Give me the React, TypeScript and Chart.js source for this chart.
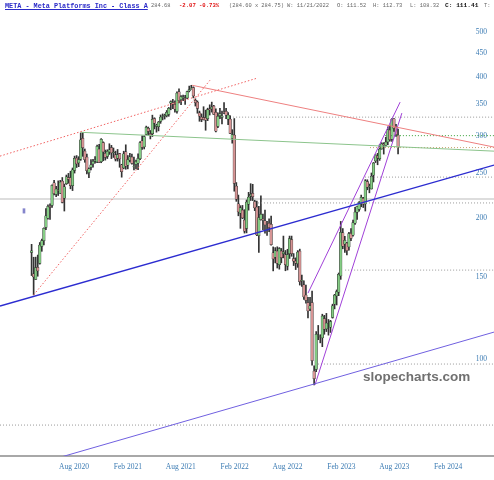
import React, { useEffect, useRef } from "react";
import { Chart, registerables } from "chart.js";

Chart.register(...registerables);

// ---------- data ----------
const firstWeek = "2020-03-09"; // weekly candles, one per week from this Monday

const opens = [
  169.0, 152.0, 148.0, 157.0, 160.0, 174.0, 179.0, 191.0, 200.0, 212.0, 213.0, 238.0, 224.6, 229.0, 226.0, 240.1, 220.6, 237.0, 244.0, 244.0, 234.7, 252.8, 268.6, 262.3, 267.4, 296.0, 278.0, 270.0, 250.0, 256.6, 261.2, 264.7, 263.7, 281.0, 264.0, 290.0, 275.0, 271.0, 277.0, 283.0, 275.8, 273.0, 268.7,
  274.8, 260.0, 256.0, 277.0, 259.5, 266.0, 270.0, 257.2, 260.4, 262.0, 268.0, 292.5, 284.0, 302.0, 311.1, 303.0, 303.0, 326.2, 314.0, 313.5, 321.8, 330.0, 330.0, 331.0, 333.0, 351.8, 353.0, 350.0, 338.0, 372.0, 358.0, 361.0, 360.0, 361.0, 374.0, 377.6, 380.0, 357.0, 354.0, 335.5, 328.5, 328.0, 328.0, 326.0, 342.0, 342.0, 347.0, 336.6, 313.8, 330.9, 328.0, 336.6,
  338.3, 325.5, 325.3, 296.0, 301.0, 234.0, 214.6, 205.0, 208.1, 198.0, 190.1, 214.3, 223.0, 226.0, 217.0, 211.1, 183.5, 198.6, 199.0, 197.4, 195.5, 195.0, 194.0, 168.7, 165.0, 170.0, 159.0, 170.0, 168.0, 167.0, 158.0, 168.0, 179.9, 164.0, 162.0, 159.9, 170.0, 147.0, 144.0, 137.0, 132.0, 128.0, 132.0, 94.3, 95.0, 112.0, 111.52, 111.0, 122.0, 116.0, 118.0, 117.0,
  122.8, 131.0, 136.5, 139.0, 150.5, 186.0, 176.0, 177.0, 173.5, 185.5, 184.0, 195.0, 206.0, 208.8, 214.5, 220.5, 214.5, 239.5, 233.5, 231.0, 247.0, 265.0, 271.4, 268.0, 281.0, 288.0, 286.0, 291.0, 308.5, 295.0, 326.0, 313.0, 301.0,
];
const highs = [
  175.8, 165.0, 165.1, 166.8, 177.4, 180.4, 190.6, 209.7, 213.4, 214.5, 235.5, 240.9, 233.8, 240.2, 240.8, 244.2, 236.4, 247.2, 249.2, 251.9, 255.9, 271.3, 272.0, 270.5, 304.0, 304.7, 281.0, 274.0, 256.1, 266.7, 267.1, 270.8, 286.5, 287.5, 295.7, 291.0, 279.5, 279.9, 288.3, 286.0, 282.3, 278.0, 280.3,
  275.0, 260.6, 277.9, 286.8, 272.1, 275.0, 273.9, 269.9, 266.0, 274.2, 291.4, 299.7, 300.0, 314.4, 313.0, 307.7, 331.8, 327.6, 317.5, 321.7, 332.1, 333.8, 333.6, 339.5, 344.7, 356.0, 358.8, 356.0, 372.0, 377.6, 365.5, 366.3, 366.0, 373.4, 382.8, 384.3, 381.4, 359.6, 355.9, 338.5, 333.9, 345.9, 340.1, 343.4, 349.1, 353.8, 348.2, 342.2, 335.6, 343.1, 338.7, 353.0,
  343.1, 335.9, 330.9, 309.0, 326.3, 238.2, 224.0, 212.6, 212.9, 208.5, 218.7, 227.0, 236.9, 236.2, 218.4, 217.5, 212.0, 223.1, 204.1, 208.0, 196.8, 199.2, 202.0, 173.6, 173.0, 173.7, 173.0, 172.3, 183.1, 170.6, 171.6, 183.1, 183.1, 168.0, 164.5, 170.5, 171.7, 151.2, 147.0, 143.9, 135.5, 135.5, 139.7, 96.8, 114.5, 118.0, 112.73, 124.7, 124.0, 125.2, 121.5, 121.0,
  131.0, 137.5, 140.5, 152.7, 196.8, 190.0, 182.8, 177.5, 186.6, 189.9, 198.0, 210.8, 212.2, 216.9, 224.0, 221.5, 241.7, 241.5, 236.5, 249.7, 263.0, 273.2, 275.0, 287.0, 289.8, 289.8, 297.5, 313.2, 315.4, 326.2, 326.2, 317.2, 310.0,
];
const lows = [
  150.8, 137.1, 148.0, 150.3, 159.5, 169.9, 175.3, 189.0, 199.0, 198.8, 210.9, 224.2, 222.2, 223.5, 225.7, 215.5, 207.1, 236.0, 237.4, 231.0, 229.0, 249.6, 256.5, 257.6, 265.7, 271.0, 263.2, 248.4, 244.1, 253.6, 256.8, 262.0, 262.6, 262.9, 262.6, 265.2, 266.0, 268.1, 273.5, 268.0, 269.5, 264.9, 264.7,
  256.8, 244.6, 254.9, 254.3, 254.8, 263.7, 260.7, 253.5, 254.8, 253.8, 266.6, 280.3, 281.0, 301.2, 300.9, 295.2, 298.7, 310.1, 305.2, 307.1, 318.7, 324.1, 325.5, 328.9, 330.0, 340.7, 342.5, 336.6, 335.2, 352.2, 349.3, 356.1, 350.0, 359.6, 372.0, 377.0, 361.2, 347.0, 335.0, 322.0, 321.3, 324.0, 308.1, 323.0, 332.0, 336.8, 333.1, 305.6, 312.0, 326.0, 317.9, 334.1,
  326.1, 316.5, 303.0, 289.1, 228.3, 217.2, 202.3, 190.2, 199.5, 185.8, 186.0, 208.0, 218.1, 218.0, 207.5, 183.5, 169.0, 198.0, 188.9, 185.8, 183.8, 187.0, 175.0, 154.3, 160.5, 156.5, 155.6, 160.5, 164.5, 154.4, 155.0, 164.0, 165.8, 158.4, 155.3, 157.0, 143.9, 142.9, 134.1, 131.7, 122.5, 126.9, 97.1, 88.1, 94.0, 110.0, 108.32, 106.3, 113.0, 114.5, 112.5, 114.0,
  122.3, 128.0, 130.5, 136.6, 148.0, 172.0, 169.0, 167.0, 170.9, 179.0, 183.0, 194.0, 198.7, 207.0, 211.5, 210.7, 207.1, 229.9, 226.5, 230.7, 238.9, 262.8, 260.0, 265.6, 280.6, 274.0, 285.0, 287.0, 292.0, 291.5, 306.5, 299.0, 274.4,
];
const closes = [
  170.3, 149.7, 156.8, 154.2, 175.2, 179.2, 190.1, 202.3, 211.9, 210.9, 234.9, 225.5, 230.8, 228.6, 238.8, 216.1, 233.4, 245.1, 242.0, 234.5, 253.7, 268.4, 261.2, 266.6, 294.0, 282.7, 266.6, 252.5, 254.8, 259.9, 264.4, 265.9, 284.8, 263.1, 294.7, 276.9, 269.7, 277.8, 279.7, 275.6, 276.4, 267.4, 273.2,
  267.6, 251.4, 274.5, 258.3, 266.7, 270.5, 261.6, 257.6, 264.3, 268.4, 290.1, 283.0, 298.7, 312.5, 306.2, 301.1, 325.1, 319.1, 315.9, 320.8, 328.7, 330.4, 331.3, 336.5, 343.2, 354.7, 350.4, 341.7, 369.8, 356.3, 363.5, 362.7, 359.4, 372.6, 376.3, 378.7, 364.7, 353.0, 343.0, 330.1, 324.8, 324.6, 323.6, 341.1, 340.9, 345.3, 333.1, 306.8, 329.8, 333.8, 330.5, 336.4,
  331.8, 331.9, 303.2, 301.7, 237.1, 219.6, 206.2, 210.5, 200.1, 187.6, 216.5, 221.8, 224.9, 222.3, 210.2, 184.1, 200.5, 203.8, 198.6, 193.5, 195.1, 190.8, 175.6, 163.7, 170.2, 160.0, 172.2, 164.7, 169.3, 159.1, 167.1, 180.9, 168.0, 161.8, 160.3, 169.2, 146.3, 147.3, 135.7, 133.5, 126.8, 130.0, 99.2, 90.8, 113.0, 112.1, 111.41, 123.5, 115.9, 119.4, 118.0, 120.3,
  130.0, 137.0, 139.4, 151.7, 186.5, 174.2, 179.4, 170.4, 185.3, 181.0, 195.6, 206.0, 211.9, 216.1, 221.5, 214.1, 240.3, 232.8, 233.8, 245.6, 262.0, 272.6, 268.9, 281.0, 288.7, 287.0, 290.5, 308.9, 294.3, 325.5, 310.7, 301.6, 283.3,
];

const yTicks = [100, 150, 200, 250, 300, 350, 400, 450, 500];
const xTickDates = ["2020-08-01", "2021-02-01", "2021-08-01", "2022-02-01", "2022-08-01", "2023-02-01", "2023-08-01", "2024-02-01"];
const xTickLabels = ["Aug 2020", "Feb 2021", "Aug 2021", "Feb 2022", "Aug 2022", "Feb 2023", "Aug 2023", "Feb 2024"];

const viewStart = "2019-11-22";
const viewEnd = "2024-07-07";
const priceMin = 62.1;
const priceMax = 584.5;

// trend lines: [date, price] endpoints
const redDottedShallow: [string, number][] = [["2019-11-22", 271.3], ["2022-04-19", 398]];
const redDottedSteep: [string, number][] = [["2020-03-16", 137.1], ["2021-11-09", 394]];
const redSolid: [string, number][] = [["2021-09-09", 384.3], ["2024-07-07", 283.6]];
const greenSolid: [string, number][] = [["2020-08-24", 305], ["2024-07-07", 278]];
const blueSupport: [string, number][] = [["2019-11-22", 129.8], ["2024-07-07", 259.6]];
const violetSupport: [string, number][] = [["2020-06-18", 61.8], ["2024-07-07", 114.2]];
const purpleUpper: [string, number][] = [["2022-10-10", 138.3], ["2023-08-21", 353.8]];
const purpleLower: [string, number][] = [["2022-11-03", 88.1], ["2023-08-27", 335.2]];

// horizontal levels: [start date, price]
const grayDottedLevels: [string, number][] = [
  ["2022-01-27", 328.6],
  ["2023-04-23", 244.7],
  ["2022-04-12", 215.5],
  ["2023-02-14", 154.9],
  ["2022-11-13", 97.6],
  ["2019-11-22", 72.3],
];
const greenDottedLevel: [string, number] = ["2023-06-30", 300];
const orangeDottedLevel: [string, number] = ["2023-05-10", 282.9];
const graySolidLevel: [string, number] = ["2019-11-22", 219.6];
const markerBar: [string, number, number] = ["2020-02-12", 205, 209.5];

// ---------- helpers ----------
const DAY0 = Date.UTC(2020, 0, 1);
const toDay = (s: string) => {
  const [y, m, d] = s.split("-").map(Number);
  return (Date.UTC(y, m - 1, d) - DAY0) / 86400000;
};

const UP = "#84cc84";
const DOWN = "#d69494";
const EDGE = "#262626";
const AXIS_TEXT = "#3b7bb3";

const lineDs = (pts: [string, number][], color: string, width: number, dash: number[] = []) => ({
  type: "line" as const,
  data: pts.map(([d, p]) => ({ x: toDay(d), y: p })),
  borderColor: color,
  borderWidth: width,
  borderDash: dash,
  pointRadius: 0,
  fill: false,
  tension: 0,
  order: 0,
});

const levelDs = (lvl: [string, number], color: string, width: number, dash: number[]) =>
  lineDs([[lvl[0], lvl[1]], [viewEnd, lvl[1]]], color, width, dash);

const headerPieces = [
  { t: "META - Meta Platforms Inc - Class A", x: 5, s: 6.8, w: 700, c: "#2a2ac8", u: true },
  { t: "284.68", x: 151, s: 5.4, w: 400, c: "#666", u: false },
  { t: "-2.07", x: 179, s: 5.6, w: 700, c: "#e01010", u: false },
  { t: "-0.73%", x: 199, s: 5.6, w: 700, c: "#e01010", u: false },
  { t: "(284.60 x 284.75)", x: 229, s: 5.4, w: 400, c: "#666", u: false },
  { t: "W: 11/21/2022", x: 287, s: 5.4, w: 400, c: "#666", u: false },
  { t: "O: 111.52", x: 337, s: 5.4, w: 400, c: "#666", u: false },
  { t: "H: 112.73", x: 373, s: 5.4, w: 400, c: "#666", u: false },
  { t: "L: 108.32", x: 410, s: 5.4, w: 400, c: "#666", u: false },
  { t: "C: 111.41", x: 445, s: 6.2, w: 700, c: "#111", u: false },
  { t: "T:", x: 484, s: 5.4, w: 400, c: "#666", u: false },
];

const zeroPad = (s: any) => {
  s.paddingTop = 0;
  s.paddingBottom = 0;
  s.paddingLeft = 0;
  s.paddingRight = 0;
};

export default function App() {
  const ref = useRef<HTMLCanvasElement | null>(null);

  useEffect(() => {
    if (!ref.current) return;
    const start = toDay(firstWeek);
    const xs = closes.map((_, i) => start + i * 7);

    const chart = new Chart(ref.current, {
      type: "bar",
      data: {
        datasets: [
          lineDs(redDottedShallow, "#f06060", 1, [1.5, 2]),
          lineDs(redDottedSteep, "#f06060", 1, [1.5, 2]),
          lineDs(redSolid, "#ee8080", 1),
          lineDs(greenSolid, "#8cc48c", 1),
          lineDs(blueSupport, "#2c2cd0", 1.4),
          lineDs(violetSupport, "#7060e0", 1),
          lineDs(purpleUpper, "#a040d8", 1),
          lineDs(purpleLower, "#a040d8", 1),
          ...grayDottedLevels.map((l) => levelDs(l, "#9a9a9a", 1, [1, 2])),
          levelDs(greenDottedLevel, "#3aa03a", 1, [1, 2]),
          levelDs(orangeDottedLevel, "#c8a070", 1, [1, 2]),
          { ...levelDs(graySolidLevel, "#d2d2d2", 1.5, []), order: 5 },
          {
            type: "bar" as const,
            data: closes.map((c, i) => ({ x: xs[i], y: [opens[i], c] })),
            backgroundColor: closes.map((c, i) => (c >= opens[i] ? UP : DOWN)),
            borderColor: EDGE,
            borderWidth: 0.5,
            borderSkipped: false,
            barThickness: 2.6,
            grouped: false,
            order: 2,
          },
          {
            type: "bar" as const,
            data: closes.map((_, i) => ({ x: xs[i], y: [lows[i], highs[i]] })),
            backgroundColor: "#333",
            borderWidth: 0,
            barThickness: 1,
            grouped: false,
            order: 3,
          },
          {
            type: "bar" as const,
            data: [{ x: toDay(markerBar[0]), y: [markerBar[1], markerBar[2]] }],
            backgroundColor: "#8585cc",
            borderWidth: 0,
            barThickness: 2,
            grouped: false,
            order: 3,
          },
        ] as any,
      },
      options: {
        animation: false,
        responsive: true,
        maintainAspectRatio: false,
        events: [],
        layout: { padding: 0 },
        plugins: {
          legend: { display: false },
          tooltip: { enabled: false },
          title: { display: false },
        },
        scales: {
          x: {
            type: "linear",
            min: toDay(viewStart),
            max: toDay(viewEnd),
            offset: false,
            grid: { display: false, drawTicks: false },
            border: { display: true, color: "#a8a8a8", width: 2 },
            afterBuildTicks: (s: any) => {
              s.ticks = xTickDates.map((d) => ({ value: toDay(d) }));
            },
            afterFit: (s: any) => {
              s.height = 24;
              zeroPad(s);
            },
            ticks: {
              autoSkip: false,
              maxRotation: 0,
              padding: 7,
              color: AXIS_TEXT,
              font: { family: '"Liberation Serif", "DejaVu Serif", serif', size: 7.5 },
              callback: (v: any) => {
                const i = xTickDates.findIndex((d) => toDay(d) === v);
                return i >= 0 ? xTickLabels[i] : "";
              },
            },
          },
          y: {
            type: "logarithmic",
            position: "right",
            min: priceMin,
            max: priceMax,
            grid: { display: false, drawTicks: false },
            border: { display: false },
            afterBuildTicks: (s: any) => {
              s.ticks = yTicks.map((v) => ({ value: v }));
            },
            afterFit: (s: any) => {
              s.width = 0;
              zeroPad(s);
            },
            ticks: {
              mirror: true,
              padding: -7,
              autoSkip: false,
              color: AXIS_TEXT,
              font: { family: '"Liberation Serif", "DejaVu Serif", serif', size: 7.5 },
              callback: (v: any) => String(v),
            },
          },
        },
      } as any,
    });
    return () => chart.destroy();
  }, []);

  return (
    <div style={{ position: "fixed", left: 0, top: 0, width: 494, height: 480, background: "#fff", overflow: "hidden" }}>
      <canvas ref={ref} style={{ display: "block" }} />
      {headerPieces.map((p, i) => (
        <span
          key={i}
          style={{
            position: "absolute",
            left: p.x,
            top: 6 - p.s * 0.6,
            fontFamily: '"Liberation Mono", "DejaVu Sans Mono", monospace',
            fontSize: p.s,
            fontWeight: p.w,
            color: p.c,
            textDecoration: p.u ? "underline" : "none",
            whiteSpace: "nowrap",
            lineHeight: 1.2,
          }}
        >
          {p.t}
        </span>
      ))}
      <span
        style={{
          position: "absolute",
          left: 363,
          top: 370,
          fontFamily: '"Liberation Sans", Arial, sans-serif',
          fontSize: 13.5,
          fontWeight: 700,
          color: "#707070",
          whiteSpace: "nowrap",
          lineHeight: 1,
        }}
      >
        slopecharts.com
      </span>
    </div>
  );
}
